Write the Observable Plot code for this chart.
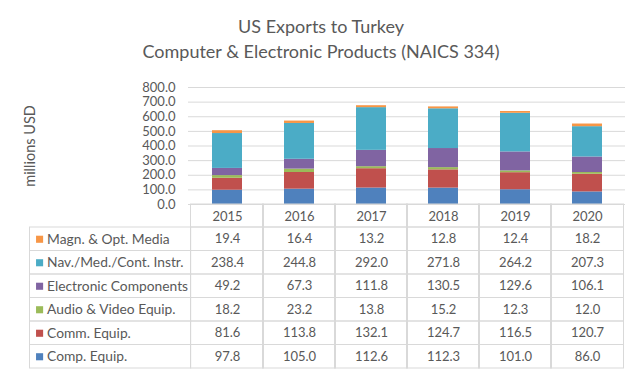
<!DOCTYPE html>
<html><head><meta charset="utf-8">
<script src="https://cdn.jsdelivr.net/npm/d3@7"></script>
<script src="https://cdn.jsdelivr.net/npm/@observablehq/plot@0.6"></script>
<style>
html,body{margin:0;padding:0;background:#fff;}
body{width:642px;height:376px;overflow:hidden;font-family:Lato,sans-serif;}
#title{box-sizing:border-box;height:72px;width:642px;padding-top:14px;text-align:center;color:#595959;font-size:18px;line-height:25px;}
</style></head>
<body>
<div id="title"><div>US Exports to Turkey</div><div>Computer &amp; Electronic Products (NAICS 334)</div></div>
<div id="chart"></div>
<script>
const years = ["2015", "2016", "2017", "2018", "2019", "2020"];
// table order (top to bottom)
const series = ["Magn. & Opt. Media", "Nav./Med./Cont. Instr.", "Electronic Components", "Audio & Video Equip.", "Comm. Equip.", "Comp. Equip."];
const colors = ["#F79646", "#4BACC6", "#8064A2", "#9BBB59", "#C0504D", "#4F81BD"];
const magn  = [19.4, 16.4, 13.2, 12.8, 12.4, 18.2];
const nav   = [238.4, 244.8, 292.0, 271.8, 264.2, 207.3];
const elec  = [49.2, 67.3, 111.8, 130.5, 129.6, 106.1];
const audio = [18.2, 23.2, 13.8, 15.2, 12.3, 12.0];
const comm  = [81.6, 113.8, 132.1, 124.7, 116.5, 120.7];
const comp  = [97.8, 105.0, 112.6, 112.3, 101.0, 86.0];
const yTicks = [0, 100, 200, 300, 400, 500, 600, 700, 800];
const yLabel = "millions USD";

const valuesBySeries = [magn, nav, elec, audio, comm, comp];

// geometry
const W = 642, H = 304, mL = 188, mR = 17, mT = 15, mB = 8;
const zeroPx = 132;
const k = (zeroPx - mT) / 800;
const yMin = -(H - mB - zeroPx) / k;
const u = px => -px / k;
const pi = 0.59, po = pi / 2;
const step = (W - mL - mR) / years.length;
const bw = step * (1 - pi);
const cellInset = -(step - bw) / 2;
const bandStart0 = mL + po * step;
const center0 = bandStart0 + bw / 2;
const headerH = 23, rowH = 23.5;

// stacked data, bottom-up
const long = [];
for (let s = series.length - 1; s >= 0; s--) {
  years.forEach((yr, j) => long.push({year: yr, series: series[s], value: valuesBySeries[s][j]}));
}

const headerCells = years.map(yr => ({year: yr, y1: 0, y2: u(headerH)}));
const bodyCells = [];
const labelCells = [];
series.forEach((s, i) => {
  const y1 = u(headerH + rowH * i), y2 = u(headerH + rowH * (i + 1));
  years.forEach((yr, j) => bodyCells.push({year: yr, y1, y2, text: d3.format(".1f")(valuesBySeries[i][j])}));
  labelCells.push({series: s, y1, y2});
});

const gray = "#D9D9D9";
const chart = Plot.plot({
  width: W, height: H,
  marginLeft: mL, marginRight: mR, marginTop: mT, marginBottom: mB,
  style: {fontFamily: "Lato, sans-serif", fontSize: "13px", color: "#595959", background: "#fff"},
  x: {type: "band", domain: years, paddingInner: pi, paddingOuter: po, axis: null},
  y: {domain: [yMin, 800], axis: null},
  color: {domain: series, range: colors},
  marks: [
    Plot.gridY(yTicks, {stroke: gray, strokeOpacity: 1}),
    Plot.axisY(yTicks, {tickFormat: d3.format(".1f"), tickSize: 0, tickPadding: 13, label: null, fontSize: 13}),
    Plot.text([yLabel], {frameAnchor: "left", textAnchor: "middle", dx: 30 - mL, y: () => 400, rotate: -90, fontSize: 14.5, text: d => d}),
    Plot.barY(long, {x: "year", y: "value", fill: "series"}),
    // table grid
    Plot.barY(headerCells, {x: "year", y1: "y1", y2: "y2", fill: "none", stroke: gray, insetLeft: cellInset, insetRight: cellInset}),
    Plot.barY(bodyCells, {x: "year", y1: "y1", y2: "y2", fill: "none", stroke: gray, insetLeft: cellInset, insetRight: cellInset}),
    Plot.barY(labelCells, {x: () => years[0], y1: "y1", y2: "y2", fill: "none", stroke: gray, insetLeft: -(bandStart0 - 27), insetRight: (bandStart0 + bw) - mL}),
    // table texts
    Plot.text(years, {x: d => d, y: () => u(12), text: d => d, fontSize: 13}),
    Plot.text(bodyCells, {x: "year", y: d => (d.y1 + d.y2) / 2, text: "text", fontSize: 13}),
    Plot.dot(labelCells, {x: () => years[0], y: d => (d.y1 + d.y2) / 2, dx: 36.5 - center0, symbol: "square", r: 4, fill: "series"}),
    Plot.text(labelCells, {x: () => years[0], y: d => (d.y1 + d.y2) / 2, dx: 44 - center0, textAnchor: "start", text: "series", fontSize: 13.8})
  ]
});
document.getElementById("chart").appendChild(chart);
</script>
</body></html>
